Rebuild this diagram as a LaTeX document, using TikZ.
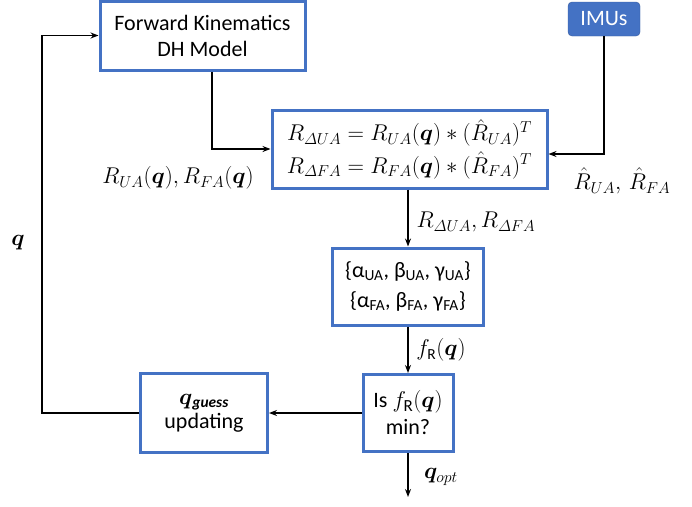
\documentclass[tikz,border=0pt]{standalone}
\usepackage{amsmath}
\usepackage{bm}
\usepackage{graphicx}
\usepackage{fontspec}
\setmainfont{Carlito}
\usetikzlibrary{arrows.meta}
\definecolor{boxblue}{RGB}{68,114,196}
\newcommand\mth[1]{\scalebox{1.1}{$#1$}}
\tikzset{
  blk/.style={draw=boxblue, line width=3pt, fill=white, align=center, inner sep=2pt, font=\fontsize{22}{26}\selectfont},
  lbl/.style={font=\fontsize{20}{24}\selectfont, inner sep=0pt},
  arr/.style={line width=1.5pt, -{Stealth[length=8pt,width=6pt]}}
}
\begin{document}
\begin{tikzpicture}[x=1pt,y=-1pt]
\useasboundingbox (0,0) rectangle (692,506);
\node[blk, minimum width=205pt, minimum height=69pt] (fk) at (202.5,35.5) {Forward Kinematics\\DH Model};
\node[draw=boxblue!80!black, fill=boxblue, rounded corners=4pt, text=white, minimum width=72pt, minimum height=34pt, font=\fontsize{22}{26}\selectfont] (imu) at (604,19) {IMUs};
\node[blk, minimum width=275pt, minimum height=78pt, font=\fontsize{20}{24}\selectfont] (eq) at (409.5,149) {\mth{R_{\varDelta UA} = R_{UA}(\bm{q}) \ast (\hat{R}_{UA})^{T}}\\[4pt]\mth{R_{\varDelta FA} = R_{FA}(\bm{q}) \ast (\hat{R}_{FA})^{T}}};
\node[blk, minimum width=151pt, minimum height=77pt, font=\fontsize{22}{30}\selectfont] (ang) at (408,286.5) {\{α\textsubscript{UA}, β\textsubscript{UA}, γ\textsubscript{UA}\}\\\{α\textsubscript{FA}, β\textsubscript{FA}, γ\textsubscript{FA}\}};
\node[blk, minimum width=90pt, minimum height=77pt, font=\fontsize{22}{27}\selectfont] (is) at (408,413) {Is \mth{f_{\mathrm{R}}(\bm{q})}\\min?};
\node[blk, minimum width=127pt, minimum height=79pt, font=\fontsize{22}{24}\selectfont] (qg) at (204,413) {\mth{\bm{q}}\textsubscript{\bfseries\itshape guess}\\updating};
\coordinate (c1) at (42,413);
\coordinate (out) at (408,497);
\draw[arr] ([xshift=9.5pt]fk.south) |- (eq.west);
\draw[arr] (imu.south) |- ([yshift=-5pt]eq.east);
\draw[arr] (eq.south -| ang.north) -- (ang.north);
\draw[arr] (ang.south) -- (is.north);
\draw[arr] (is.west) -- (qg.east);
\draw[arr] (qg.west) -- (c1) |- (fk.west);
\draw[arr] (is.south) -- (out);
\node[lbl] (l1) at (178,178) {\mth{R_{UA}(\bm{q}), R_{FA}(\bm{q})}};
\node[lbl] (l2) at (622,181) {\mth{\hat{R}_{UA},\, \hat{R}_{FA}}};
\node[lbl] (l3) at (476,222) {\mth{R_{\varDelta UA}, R_{\varDelta FA}}};
\node[lbl] (l4) at (441,350) {\mth{f_{\mathrm{R}}(\bm{q})}};
\node[lbl] (l5) at (441,477) {\mth{\bm{q}_{opt}}};
\node[lbl] (l6) at (18,243) {\mth{\bm{q}}};
\end{tikzpicture}
\end{document}
